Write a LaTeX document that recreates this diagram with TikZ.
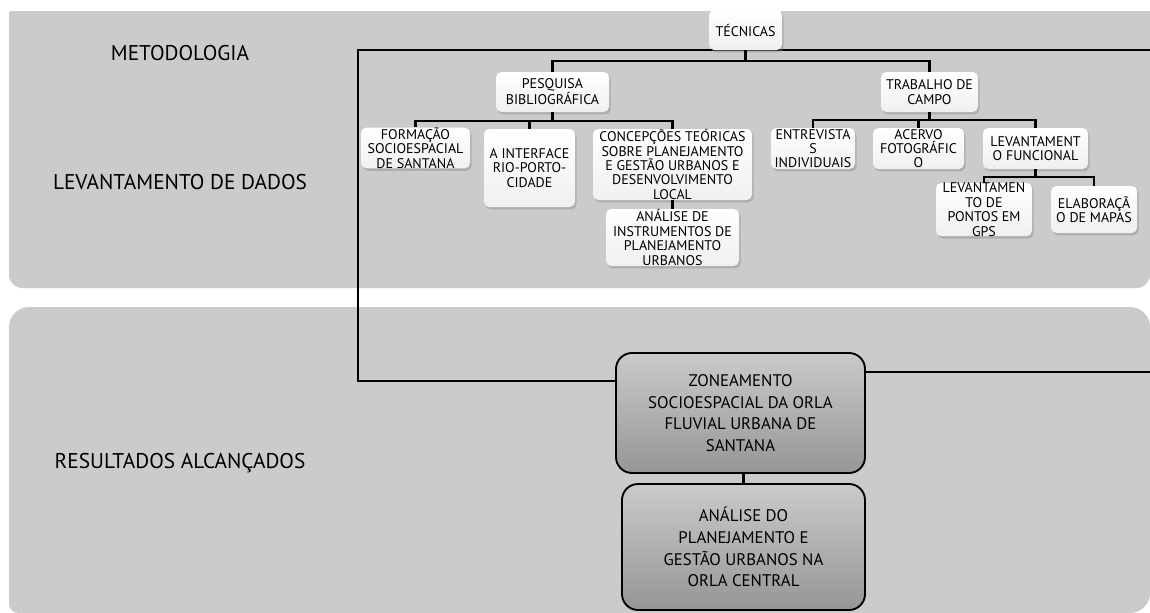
\documentclass[tikz,border=0pt]{standalone}
\usepackage{fontspec}
\setmainfont{PT Sans}
\usetikzlibrary{shadows,backgrounds}
\definecolor{bandgray}{RGB}{203,203,203}
\definecolor{restop}{RGB}{202,202,202}
\definecolor{resbot}{RGB}{150,150,150}

\begin{document}
\begin{tikzpicture}[x=0.75pt,y=-0.75pt,
    rowlabel/.style={font=\fontsize{16}{19}\selectfont},
    tecbox/.style={rounded corners=4pt,top color=white,bottom color=gray!12,
        drop shadow={shadow xshift=1.2pt,shadow yshift=-1.8pt,opacity=.4},
        align=center,inner sep=0pt,font=\fontsize{10.5}{10.8}\selectfont},
    resbox/.style={draw,line width=1.4pt,rounded corners=12pt,top color=restop,bottom color=resbot,
        align=center,inner sep=0pt,font=\fontsize{12.6}{16.3}\selectfont},
    link/.style={line width=1.8pt}]
    \useasboundingbox (0,0) rectangle (1150,612);
    \clip (0,0) rectangle (1150,612);

    \begin{pgfonlayer}{background}
        \fill[bandgray,rounded corners=10pt] (9,11) rectangle (1150,288);
        \fill[bandgray,rounded corners=1.5pt] (9,11) rectangle (60,60);
        \fill[bandgray] (1100,11) rectangle (1150,60);
        \fill[bandgray,rounded corners=15pt] (9,307) rectangle (1150,613);
        \fill[bandgray,rounded corners=7pt] (9,560) rectangle (60,613);
    \end{pgfonlayer}

    \node[rowlabel] (met) at (180,53) {METODOLOGIA};
    \node[rowlabel] (lev) at (180,182) {LEVANTAMENTO DE DADOS};
    \node[rowlabel] (res) at (180,463) {RESULTADOS ALCANÇADOS};

    % tecnicas
    \node[tecbox,minimum width=54.75pt,minimum height=30pt] (tec) at (745.5,30) {TÉCNICAS};
    \node[tecbox,minimum width=84.75pt,minimum height=30pt] (pes) at (552.5,92) {PESQUISA\\BIBLIOGRÁFICA};
    \node[tecbox,minimum width=72.75pt,minimum height=30pt] (trab) at (929.5,92) {TRABALHO DE\\CAMPO};

    \node[tecbox,minimum width=81.75pt,minimum height=30pt] (form) at (415.5,148) {FORMAÇÃO\\SOCIOESPACIAL\\DE SANTANA};
    \node[tecbox,minimum width=68.25pt,minimum height=58.5pt] (inter) at (529.5,168) {A INTERFACE\\RIO-PORTO-\\CIDADE};
    \node[tecbox,minimum width=119.25pt,minimum height=53.25pt] (conc) at (672.5,164.5) {CONCEPÇÕES TEÓRICAS\\SOBRE PLANEJAMENTO\\E GESTÃO URBANOS E\\DESENVOLVIMENTO\\LOCAL};
    \node[tecbox,minimum width=99.75pt,minimum height=42.75pt] (instr) at (672.5,237.5) {ANÁLISE DE\\INSTRUMENTOS DE\\PLANEJAMENTO\\URBANOS};

    \node[tecbox,minimum width=63pt,minimum height=30.75pt] (entr) at (813,148.5) {ENTREVISTA\\S\\INDIVIDUAIS};
    \node[tecbox,minimum width=68.25pt,minimum height=30.75pt] (acer) at (918.5,148.5) {ACERVO\\FOTOGRÁFIC\\O};
    \node[tecbox,minimum width=78.75pt,minimum height=30.75pt] (levf) at (1035.5,148.5) {LEVANTAMENT\\O FUNCIONAL};
    \node[tecbox,minimum width=72pt,minimum height=35.25pt] (levp) at (984,209.5) {LEVANTAMEN\\TO DE\\PONTOS EM\\GPS};
    \node[tecbox,minimum width=64.5pt,minimum height=35.25pt] (elab) at (1094,209.5) {ELABORAÇÃ\\O DE MAPAS};

    % resultados
    \node[resbox,minimum width=186.75pt,minimum height=90pt] (zon) at (740.5,413) {ZONEAMENTO\\SOCIOESPACIAL DA ORLA\\FLUVIAL URBANA DE\\SANTANA};
    \node[resbox,minimum width=182.25pt,minimum height=94.5pt] (ana) at (743.5,547) {ANÁLISE DO\\PLANEJAMENTO E\\GESTÃO URBANOS NA\\ORLA CENTRAL};

    \draw[link] (tec.south) -- ++(0,11) -| (pes.north);
    \draw[link] (tec.south) -- ++(0,11) -| (trab.north);
    \foreach \n in {form,inter,conc}
        \draw[link] (pes.south) -- ++(0,9) -| (\n.north);
    \foreach \n in {entr,acer,levf}
        \draw[link] (trab.south) -- ++(0,8) -| (\n.north);
    \foreach \n in {levp,elab}
        \draw[link] (levf.south) -- ++(0,8) -| (\n.north);
    \draw[link] (conc.south) -- (instr.north);
    \draw[link] (ana.north |- zon.south) -- (ana.north);

    \coordinate (brL) at (358,381);
    \coordinate (brR) at (1152,372);
    \begin{pgfonlayer}{background}
        \draw[link] (zon.west |- brL) -- (brL) |- (tec.south) -- (tec.south -| brR);
        \draw[link] (zon.east |- brR) -- (brR);
    \end{pgfonlayer}
\end{tikzpicture}
\end{document}
